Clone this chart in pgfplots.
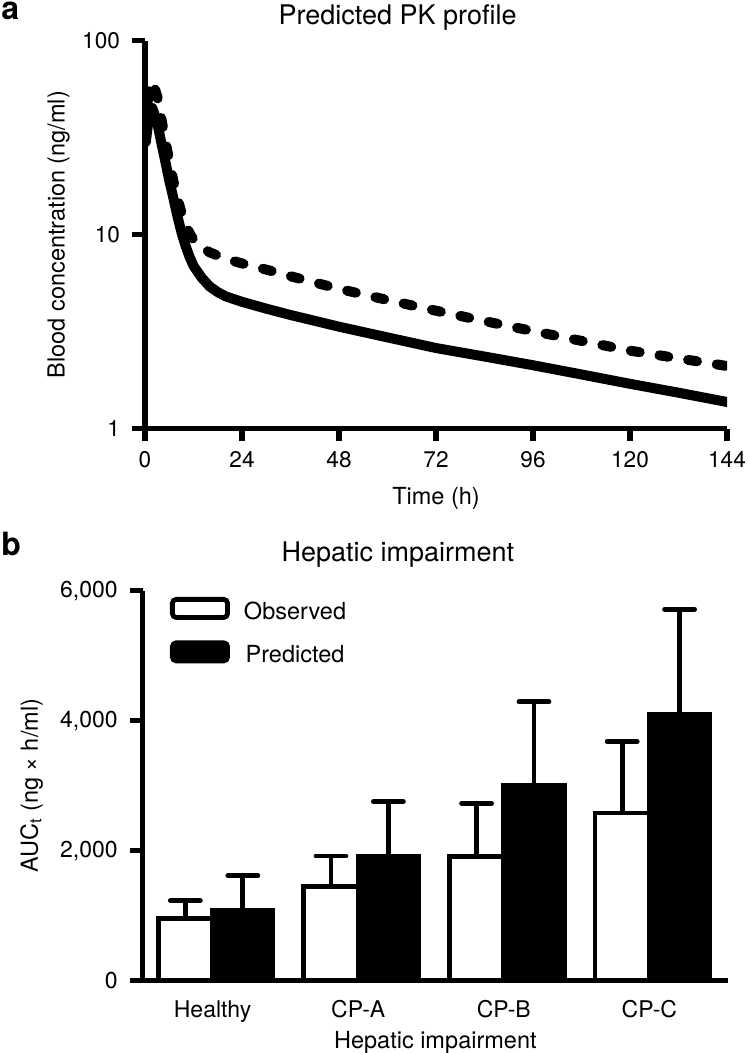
\documentclass[border=0pt]{standalone}
\usepackage{fontspec}
\setmainfont{TeX Gyre Heros}
\usepackage{pgfplots}
\usepackage{pgfplotstable}
\pgfplotsset{compat=1.18}

\pgfplotstableread{
t c
0.2 30
1 41
1.8 45
3 38
4 30
5 24
6 19
7 15.5
8 12.5
9 10.3
10 8.8
11 7.7
12 6.9
14 6.0
16 5.4
18 5.05
20 4.8
24 4.5
30 4.15
36 3.85
48 3.35
60 2.95
72 2.6
84 2.35
96 2.12
108 1.9
120 1.7
132 1.53
144 1.37
}\solidtab

\pgfplotstableread{
t c
0.2 35
1 55
1.8 62
3 52
4 40
5 31
6 24
7 19
8 15.5
9 13
10 11.3
11 10.2
12 9.4
14 8.6
16 8.1
20 7.5
24 7.1
30 6.6
36 6.1
48 5.25
60 4.6
72 4.05
84 3.58
96 3.18
108 2.83
120 2.52
132 2.3
144 2.1
}\dashedtab

% observed: group position, bar centre, mean, upper SD
\pgfplotstableread{
x xc obs obserr
0 -0.187 960 270
1 0.813 1450 470
2 1.813 1910 820
3 2.813 2580 1100
}\obstab

\pgfplotstableread{
x xc pred prederr
0 0.2075 1075 540
1 1.2075 1905 850
2 2.2075 3010 1280
3 3.2075 4090 1625
}\predtab

\begin{document}
\begin{tikzpicture}
\useasboundingbox (0,0) rectangle (374pt,-526.5pt);
\node[anchor=base west, inner sep=0pt, font=\fontsize{16}{18}\selectfont\bfseries] at (0.5pt,-10pt) {a};
\node[anchor=base west, inner sep=0pt, font=\fontsize{16}{18}\selectfont\bfseries] at (0.5pt,-277.5pt) {b};

\begin{axis}[
  at={(72.5pt,-214.25pt)}, anchor=south west,
  scale only axis, width=291pt, height=193.9pt,
  ymode=log, xmin=0, xmax=144, ymin=1, ymax=100,
  axis x line*=bottom, axis y line*=left,
  axis line style={line width=2.6pt, black},
  every tick/.style={black, line width=2.6pt},
  tick align=outside, major tick length=6.5pt,
  xtick={0,24,...,144}, ytick={1,10,100}, yticklabels={1,10,100},
  yminorticks=false,
  /pgf/number format/assume math mode=true,
  tick label style={font=\fontsize{11.3}{13}\selectfont},
  xticklabel style={yshift=-1.5pt},
  yticklabel style={xshift=-2.5pt},
  xlabel={Time (h)}, ylabel={Blood concentration (ng/ml)},
  label style={font=\fontsize{11.75}{14}\selectfont},
  xlabel style={at={(axis description cs:0.5,-0.197)}, anchor=base},
  ylabel style={at={(axis description cs:-0.1486,0.5)}, anchor=center},
  title={Predicted PK profile},
  title style={at={(axis description cs:0.434,1.012)}, anchor=base, font=\fontsize{13.5}{16}\selectfont},
]
\addplot[black, line width=5pt, line join=round, line cap=round] table[x=t, y=c] {\solidtab};
\addplot[black, line width=5pt, line join=round, line cap=round, dash pattern=on 4.5pt off 10pt] table[x=t, y=c] {\dashedtab};
\end{axis}

\begin{axis}[
  at={(71.35pt,-490.35pt)}, anchor=south west,
  scale only axis, width=292.65pt, height=195pt,
  xmin=-0.48, xmax=3.54, ymin=0, ymax=6000,
  axis x line*=bottom, axis y line*=left,
  axis line style={line width=2.6pt, black},
  every tick/.style={black, line width=2.6pt},
  tick align=outside, major tick length=6.5pt,
  xtick={0,1,2,3}, xticklabels={Healthy,CP-A,CP-B,CP-C},
  x tick style={draw=none},
  ytick={0,2000,4000,6000}, yticklabels={0,{2,000},{4,000},{6,000}},
  /pgf/number format/assume math mode=true,
  tick label style={font=\fontsize{11.5}{13}\selectfont},
  yticklabel style={xshift=-2.5pt},
  xlabel={Hepatic impairment}, ylabel={AUC\textsubscript{t} (ng × h/ml)},
  label style={font=\fontsize{11.75}{14}\selectfont},
  xlabel style={at={(axis description cs:0.5,-0.175)}, anchor=base},
  ylabel style={at={(axis description cs:-0.1897,0.5)}, anchor=center},
  title={Hepatic impairment},
  title style={at={(axis description cs:0.436,1.0446)}, anchor=base, font=\fontsize{13.5}{16}\selectfont},
  legend style={draw=none, fill=none, at={(axis description cs:0.0466,0.984)}, anchor=north west,
    inner sep=0pt, outer sep=0pt, row sep=7.75pt, font=\fontsize{11.75}{14}\selectfont,
    nodes={inner sep=1pt}, /tikz/every odd column/.append style={column sep=6pt}},
]
\addplot[ybar, bar width=0.374, bar shift=-0.187, draw=black, fill=white, line width=2.4pt,
  legend image code/.code={\draw[line width=2.4pt, rounded corners=2pt, fill=white, draw=black] (0pt,-2.5pt) rectangle (27.6pt,6.6pt);}]
  table[x=x, y=obs] {\obstab};
\addlegendentry{Observed}
\addplot[ybar, bar width=0.415, bar shift=0.2075, draw=black, fill=black, line width=2.4pt,
  legend image code/.code={\draw[line width=2.4pt, rounded corners=2pt, fill=black, draw=black] (0pt,-2.5pt) rectangle (27.6pt,6.6pt);}]
  table[x=x, y=pred] {\predtab};
\addlegendentry{Predicted}
% error bars (upper SD) at bar centres
\addplot[draw=none, mark=none, forget plot,
  error bars/.cd, y dir=plus, y explicit, error mark=|,
  error bar style={line width=2.4pt, draw=black},
  error mark options={line width=2.4pt, draw=black, mark size=7.5pt, line cap=round}]
  table[x=xc, y=obs, y error=obserr] {\obstab};
\addplot[draw=none, mark=none, forget plot,
  error bars/.cd, y dir=plus, y explicit, error mark=|,
  error bar style={line width=2.4pt, draw=black},
  error mark options={line width=2.4pt, draw=black, mark size=7.5pt, line cap=round}]
  table[x=xc, y=pred, y error=prederr] {\predtab};
\end{axis}
\end{tikzpicture}
\end{document}
